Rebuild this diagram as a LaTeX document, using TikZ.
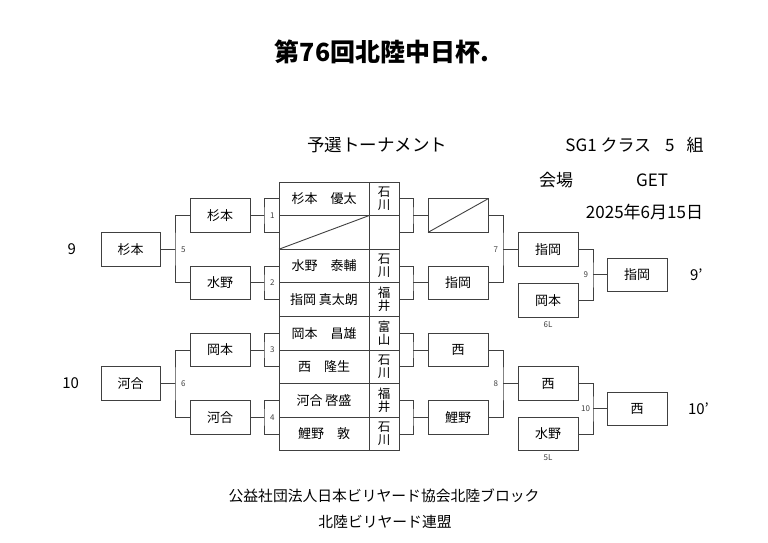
\documentclass[tikz,border=0pt]{standalone}
\usepackage{fontspec}
\setmainfont{Noto Sans CJK JP}
\usetikzlibrary{positioning,calc}

\begin{document}
\begin{tikzpicture}[x=1pt,y=-1pt,line width=0.9pt,
	every node/.style={inner sep=0pt,outer sep=0pt,font=\fontsize{13}{13}\selectfont},
	box/.style={draw=black!75,minimum width=60pt,minimum height=33.6pt},
	cell/.style={draw=black!75,minimum height=33.6pt,anchor=north west},
	wire/.style={draw=black!75},
	num/.style={font=\fontsize{8}{8}\selectfont,text=black!75},
	seed/.style={font=\fontsize{15}{15}\selectfont},
	head/.style={font=\fontsize{17}{17}\selectfont},
	foot/.style={font=\fontsize{14.8}{14.8}\selectfont}]
	\useasboundingbox (0,0) rectangle (768,542);
	% heading
	\node[font=\fontsize{25}{25}\selectfont\bfseries] (title) at (382,52) {第76回北陸中日杯.};
	\node[head,font=\fontsize{17.5}{17.5}\selectfont] (kind) at (377,145) {予選トーナメント};
	\node[head] (cls) at (634.5,145) {SG1 クラス\hspace{14pt}5\hspace{12pt}組};
	\node[head] (hall) at (556,180) {会場};
	\node[head] (get) at (652,180) {GET};
	\node[head] (date) at (644.5,212) {2025年6月15日};
	% player table
	\foreach \nm/\pf [count=\i] in {杉本　優太/石\\川, {}/{}, 水野　泰輔/石\\川, 指岡 真太朗/福\\井,
		岡本　昌雄/富\\山, 西　隆生/石\\川, 河合 啓盛/福\\井, 鯉野　敦/石\\川} {
		\node[cell,minimum width=90pt] (n\i) at (279,{182+33.6*(\i-1)}) {\nm};
		\node[cell,minimum width=30pt,align=center,font=\fontsize{12.5}{13}\selectfont] (p\i) at (369,{182+33.6*(\i-1)}) {\pf};
	}
	\draw[wire] (n2.south west) -- (n2.north east);
	% first round
	\foreach \a/\b/\k/\ql/\rl in {1/2/1/杉本/{}, 3/4/2/水野/指岡, 5/6/3/岡本/西, 7/8/4/河合/鯉野} {
		\coordinate[left=15pt of n\a.south west] (bl\k);
		\coordinate[right=14pt of p\a.south east] (br\k);
		\node[box] (q\k) [left=14pt of bl\k] {\ql};
		\node[box] (r\k) [right=15pt of br\k] {\rl};
		\draw[wire] (n\a.west) -| (bl\k) |- (n\b.west) (bl\k) -- (q\k);
		\draw[wire] (p\a.east) -| (br\k) |- (p\b.east) (br\k) -- (r\k);
		\node[num,right=6pt of bl\k] {\k};
	}
	\draw[wire] (r1.south west) -- (r1.north east);
	% left side
	\coordinate[left=104pt of n2.south west] (j5);
	\coordinate[left=104pt of n6.south west] (j6);
	\node[box,minimum width=59pt] (s1) [left=15pt of j5] {杉本};
	\node[box,minimum width=59pt] (s2) [left=15pt of j6] {河合};
	\draw[wire] (q1.west) -| (j5) |- (q2.west) (j5) -- (s1);
	\draw[wire] (q3.west) -| (j6) |- (q4.west) (j6) -- (s2);
	\node[num,right=6pt of j5] {5};
	\node[num,right=6pt of j6] {6};
	\node[seed,left=25pt of s1] (w9) {9};
	\node[seed,left=22pt of s2] (w10) {10};
	% right side
	\coordinate[right=104pt of p2.south east] (j7);
	\coordinate[right=104pt of p6.south east] (j8);
	\node[box] (t1) [right=15pt of j7] {指岡};
	\node[box] (t2) [below=17.6pt of t1] {岡本};
	\node[box] (t3) [right=15pt of j8] {西};
	\node[box] (t4) [below=16.8pt of t3] {水野};
	\draw[wire] (r1.east) -| (j7) |- (r2.east) (j7) -- (t1);
	\draw[wire] (r3.east) -| (j8) |- (r4.east) (j8) -- (t3);
	\node[num,left=5pt of j7] {7};
	\node[num,left=5pt of j8] {8};
	\node[num,below=4pt of t2] {6L};
	\node[num,below=4pt of t4] {5L};
	\coordinate (j9) at ($(t1.south east)!.5!(t2.north east)+(15,0)$);
	\coordinate (j10) at ($(t3.south east)!.5!(t4.north east)+(15,0)$);
	\node[box] (u1) [right=14pt of j9] {指岡};
	\node[box] (u2) [right=14pt of j10] {西};
	\draw[wire] (t1.east) -| (j9) |- (t2.east) (j9) -- (u1);
	\draw[wire] (t3.east) -| (j10) |- (t4.east) (j10) -- (u2);
	\node[num,left=5pt of j9] {9};
	\node[num,left=3pt of j10] {10};
	\node[seed,right=23pt of u1] (v9) {9'};
	\node[seed,right=21pt of u2] (v10) {10'};
	% footer
	\node[foot] (org) at (384,496) {公益社団法人日本ビリヤード協会北陸ブロック};
	\node[foot] (fed) at (385,522) {北陸ビリヤード連盟};
\end{tikzpicture}
\end{document}
